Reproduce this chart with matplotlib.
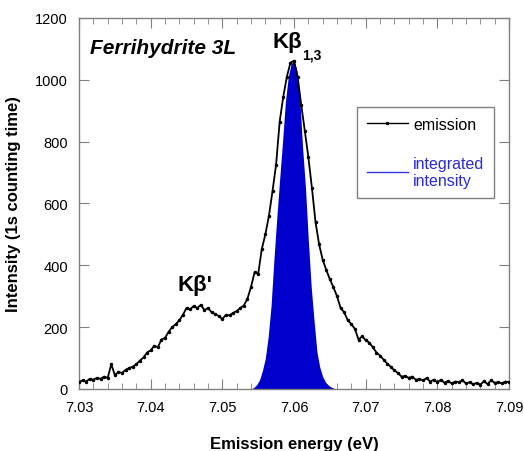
import numpy as np
import matplotlib
matplotlib.use("Agg")
import matplotlib.pyplot as plt
from matplotlib.lines import Line2D
from matplotlib.ticker import MultipleLocator

plt.rcParams['font.family'] = ['Liberation Sans', 'DejaVu Sans']

# === Data: measured emission (keV axis labelled eV in the original) ===
energy_start = 7.030
energy_step = 0.0005
emission = [
    22, 28, 24, 33, 30, 36, 33, 40, 36, 80,
    45, 55, 52, 62, 68, 72, 80, 92, 102, 118,
    125, 140, 135, 160, 165, 185, 200, 210, 222, 240,
    262, 258, 268, 262, 272, 255, 262, 248, 242, 236,
    226, 240, 238, 246, 252, 262, 270, 292, 330, 378,
    372, 452, 500, 560, 640, 726, 865, 945, 1010, 1055,
    1062, 1010, 920, 836, 750, 650, 540, 468, 418, 385,
    355, 329, 300, 262, 248, 222, 210, 194, 160, 170,
    158, 150, 135, 118, 108, 95, 82, 72, 60, 52,
    40, 42, 36, 40, 30, 32, 28, 35, 24, 30,
    22, 30, 20, 26, 18, 24, 22, 28, 18, 22,
    15, 20, 14, 25, 16, 28, 20, 22, 18, 24,
    22,
]
energy = energy_start + energy_step * np.arange(len(emission))

# === Data: integrated Kb1,3 component ===
fit_start = 7.0540
fit_step = 0.0004
integrated = [
    0, 5, 14, 30, 60, 100, 170, 270, 420, 555,
    680, 800, 930, 1010, 1052, 1062, 1030, 940, 780, 650,
    480, 330, 220, 120, 70, 40, 22, 12, 6, 2,
    0,
]
fit_energy = fit_start + fit_step * np.arange(len(integrated))

x_ticks = [7.03, 7.04, 7.05, 7.06, 7.07, 7.08, 7.09]
y_ticks = [0, 200, 400, 600, 800, 1000, 1200]

# === Plot ===
fig = plt.figure(figsize=(5.24, 4.52), dpi=100)
ax = fig.add_axes([0.1508, 0.1372, 0.8206, 0.8208])

ax.fill_between(fit_energy, integrated, 0, color='#0000cc', linewidth=0, zorder=2)
ax.plot(energy, emission, color='black', linewidth=1.3, marker='.', markersize=3, zorder=3)

ax.set_xlim(7.03, 7.09)
ax.set_ylim(0, 1200)
ax.set_xticks(x_ticks)
ax.set_xticklabels([f"{t:.2f}" for t in x_ticks])
ax.set_yticks(y_ticks)
ax.xaxis.set_minor_locator(MultipleLocator(0.002))

for sp in ax.spines.values():
    sp.set_color('#808080')
    sp.set_linewidth(1)
ax.tick_params(which='both', direction='in', top=True, right=True, color='#808080', labelsize=10.5, pad=8)
ax.tick_params(which='major', length=7)
ax.tick_params(which='minor', length=4)

ax.set_xlabel("Emission energy (eV)", fontsize=12, fontweight='bold', labelpad=16)
ax.set_ylabel("Intensity (1s counting time)", fontsize=12, fontweight='bold', labelpad=10)

# === Annotations ===
ax.text(7.0315, 1103, "Ferrihydrite 3L", fontsize=15, fontweight='bold', style='italic', va='center', ha='left')
ax.text(7.0590, 1123, "K\u03b2", fontsize=16, fontweight='bold', va='center', ha='center')
ax.text(7.0611, 1081, "1,3", fontsize=10, fontweight='bold', va='center', ha='left')
ax.text(7.0462, 339, "K\u03b2'", fontsize=16, fontweight='bold', va='center', ha='center')

# === Legend ===
handles = [
    Line2D([0], [0], color='black', lw=1, marker='.', markersize=3),
    Line2D([0], [0], color='#3333e6', lw=1),
]
leg = ax.legend(handles, ['emission', 'integrated\nintensity'], loc='upper left',
                bbox_to_anchor=(0.6465, 0.760), borderaxespad=0, fontsize=11.5,
                frameon=True, fancybox=False, edgecolor='#808080', framealpha=1,
                handlelength=2.6, labelspacing=1.5, handletextpad=0.3, borderpad=0.6,
                labelcolor=['black', '#2a2ad8'])
leg.get_frame().set_linewidth(1)

fig.savefig("out.png", dpi=100)
